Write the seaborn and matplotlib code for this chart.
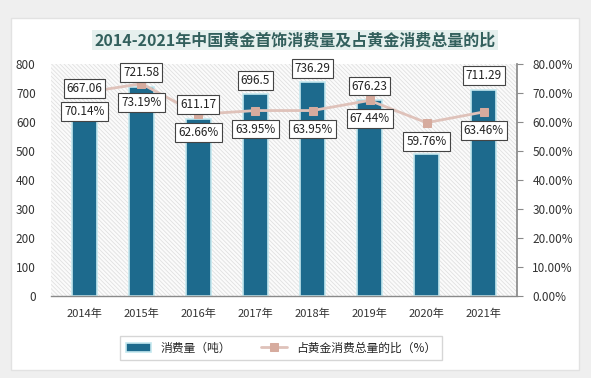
"""Gold jewellery consumption in China, 2014-2021, with share of total gold use."""

import matplotlib

matplotlib.use("Agg")

import matplotlib.pyplot as plt
import numpy as np
import pandas as pd
import seaborn as sns
from matplotlib.patches import Rectangle
from matplotlib.ticker import FuncFormatter, MultipleLocator

YEARS = ["2014年", "2015年", "2016年", "2017年", "2018年", "2019年", "2020年", "2021年"]
CONSUMPTION = [667.06, 721.58, 611.17, 696.5, 736.29, 676.23, 490.58, 711.29]
SHARE = [70.14, 73.19, 62.66, 63.95, 63.95, 67.44, 59.76, 63.46]
SHOW_VALUE = [True, True, True, True, True, True, False, True]

TITLE = "2014-2021年中国黄金首饰消费量及占黄金消费总量的比"
BAR_LABEL = "消费量（吨）"
LINE_LABEL = "占黄金消费总量的比（%）"

BAR_COLOR = "#1d6a8d"
LINE_COLOR = "#dfc2ba"
MARKER_COLOR = "#d6ab9e"

sns.set_theme(style="white")
plt.rcParams["font.family"] = ["Noto Sans CJK SC", "DejaVu Sans"]
plt.rcParams["hatch.linewidth"] = 0.6

df = pd.DataFrame({"year": YEARS, "value": CONSUMPTION, "share": SHARE})
df["pos"] = np.arange(len(df))

fig = plt.figure(figsize=(5.91, 3.78), dpi=100, facecolor="#efefef")
fig.patches.append(
    Rectangle((11 / 591, 8 / 378), 568 / 591, 352 / 378, transform=fig.transFigure,
              facecolor="white", edgecolor="#e2e2e2", lw=1, zorder=-5)
)
ax = fig.add_axes([51 / 591, 1 - 296 / 378, 466 / 591, 232 / 378])
ax.patch.set_alpha(0)

# hatched plot background
ax.add_patch(Rectangle((0, 0), 1, 1, transform=ax.transAxes, facecolor="#fbfbfb",
                       edgecolor="#e0e0e0", hatch="\\\\\\\\\\\\\\\\", lw=0, zorder=0))

sns.barplot(data=df, x="year", y="value", color=BAR_COLOR, width=0.43,
            edgecolor="#c4e8ef", linewidth=1.2, saturation=1, label=BAR_LABEL, ax=ax, zorder=2)
ax.get_legend().remove()
ax.set_ylim(0, 800)
ax.yaxis.set_major_locator(MultipleLocator(100))
ax.set_xlabel("")
ax.set_ylabel("")
for side in ["left", "top", "right"]:
    ax.spines[side].set_visible(False)
ax.spines["bottom"].set_color("#8a8a8a")
ax.spines["bottom"].set_linewidth(1.0)
ax.tick_params(axis="y", length=0, pad=11, labelsize=8.5, labelcolor="#333333")
ax.tick_params(axis="x", length=0, pad=9, labelsize=8, labelcolor="#333333")

ax2 = ax.twinx()
sns.lineplot(data=df, x="pos", y="share", color=LINE_COLOR, linewidth=2, marker="s",
             markersize=6, markerfacecolor=MARKER_COLOR, markeredgecolor=MARKER_COLOR,
             label=LINE_LABEL, ax=ax2, zorder=3)
ax2.set_ylim(0, 80)
ax2.yaxis.set_major_locator(MultipleLocator(10))
ax2.yaxis.set_major_formatter(FuncFormatter(lambda v, _: f"{v:.2f}%"))
ax2.set_ylabel("")
ax2.set_xlabel("")
for side in ["left", "top", "bottom"]:
    ax2.spines[side].set_visible(False)
ax2.spines["right"].set_color("#8a8a8a")
ax2.tick_params(axis="y", direction="out", length=4, width=0.8, color="#8a8a8a",
                pad=7, labelsize=8.5, labelcolor="#333333")
ax2.get_legend().remove()

box = dict(boxstyle="square,pad=0.25", facecolor="white", edgecolor="#444444", lw=0.8)
for i, row in df.iterrows():
    if SHOW_VALUE[i]:
        ax2.annotate(f"{row['value']:g}", xy=(row["pos"], row["value"]), xycoords=ax.transData,
                     xytext=(0, 10), textcoords="offset points", ha="center", va="center",
                     fontsize=8.5, color="#222222", bbox=box, zorder=5)
    ax2.annotate(f"{row['share']:.2f}%", xy=(row["pos"], row["share"]),
                 xytext=(0, -13.3), textcoords="offset points", ha="center", va="center",
                 fontsize=8.5, color="#222222", bbox=box, zorder=5)

fig.text(295 / 591, 1 - 40 / 378, TITLE, ha="center", va="center", fontsize=11.5,
         fontweight="bold", color="#33605d",
         bbox=dict(boxstyle="square,pad=0.15", facecolor="#e6f0ee", edgecolor="none"))

h1, l1 = ax.get_legend_handles_labels()
h2, l2 = ax2.get_legend_handles_labels()
fig.legend(h1 + h2, l1 + l2, loc="center", bbox_to_anchor=(281 / 591, 1 - 348 / 378),
           ncol=2, frameon=True, fancybox=False, edgecolor="#cccccc", fontsize=8.5,
           handlelength=2.2, columnspacing=2.5, borderpad=0.5)

fig.savefig("out.png", dpi=100, facecolor=fig.get_facecolor())
